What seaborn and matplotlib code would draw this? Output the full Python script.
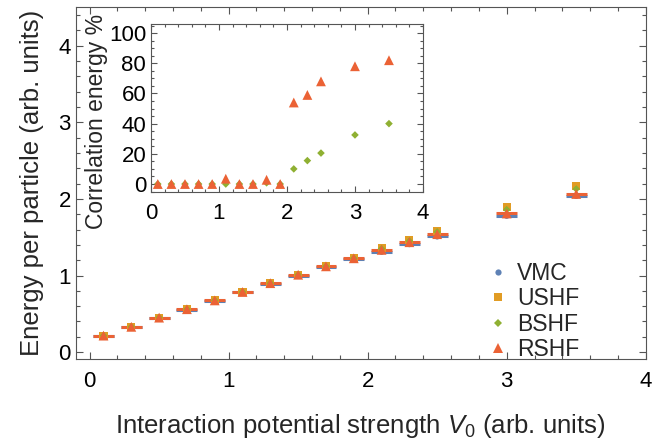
import numpy as np
import pandas as pd
import matplotlib
matplotlib.use("Agg")
import matplotlib.pyplot as plt
import seaborn as sns
from matplotlib.ticker import MultipleLocator

# interaction strengths
v0 = [0.1, 0.3, 0.5, 0.7, 0.9, 1.1, 1.3, 1.5, 1.7, 1.9, 2.1, 2.3, 2.5, 3.0, 3.5]

# energy per particle
vmc = [0.21, 0.325, 0.445, 0.555, 0.67, 0.78, 0.895, 1.0, 1.105, 1.21, 1.31, 1.41, 1.51, 1.78, 2.04]
ushf = [0.215, 0.33, 0.45, 0.56, 0.675, 0.785, 0.90, 1.01, 1.12, 1.23, 1.36, 1.46, 1.585, 1.89, 2.17]
bshf = [0.215, 0.33, 0.45, 0.56, 0.675, 0.785, 0.90, 1.01, 1.12, 1.225, 1.35, 1.45, 1.57, 1.86, 2.13]
rshf = [0.215, 0.33, 0.45, 0.56, 0.675, 0.785, 0.90, 1.01, 1.12, 1.225, 1.335, 1.435, 1.54, 1.81, 2.065]

# correlation energy percentages (inset)
bshf_pct = [0, 0, 0, 0, 0, 0, 0, 0, 0.8, 0, 10, 15.5, 20.5, 32.5, 40]
rshf_pct = [0, 0, 0, 0, 0, 3.5, 0, 0, 2.8, 0, 54, 59, 68, 78, 82]

series = ["VMC", "USHF", "BSHF", "RSHF"]
colors = {"VMC": "#5E81B5", "USHF": "#E19C24", "BSHF": "#8FB032", "RSHF": "#EB6235"}
markers = {"VMC": "o", "USHF": "s", "BSHF": "D", "RSHF": "^"}
sizes = {"VMC": 20, "USHF": 34, "BSHF": 15, "RSHF": 50}

df = pd.DataFrame({
    "V0": v0 * 4,
    "E": vmc + ushf + bshf + rshf,
    "series": [s for s in series for _ in v0],
})
df_in = pd.DataFrame({
    "V0": v0 * 2,
    "pct": bshf_pct + rshf_pct,
    "series": ["BSHF"] * len(v0) + ["RSHF"] * len(v0),
})

sns.set_style("ticks")
plt.rcParams["font.family"] = ["Liberation Sans", "DejaVu Sans"]
plt.rcParams["mathtext.fontset"] = "custom"
plt.rcParams["mathtext.it"] = "Liberation Sans:italic"
plt.rcParams["mathtext.rm"] = "Liberation Sans"
plt.rcParams["axes.edgecolor"] = "#555555"
plt.rcParams["xtick.color"] = "#555555"
plt.rcParams["ytick.color"] = "#555555"
plt.rcParams["xtick.labelcolor"] = "black"
plt.rcParams["ytick.labelcolor"] = "black"

fig = plt.figure(figsize=(6.64, 4.41), dpi=100)
ax = fig.add_axes([0.114, 0.186, 0.8585, 0.797])

# horizontal bars for VMC and RSHF
ax.errorbar(v0, vmc, xerr=0.075, fmt="none", ecolor=colors["VMC"], elinewidth=2.2, zorder=2)
ax.errorbar(v0, rshf, xerr=0.075, fmt="none", ecolor=colors["RSHF"], elinewidth=2.2, zorder=2)

sns.scatterplot(data=df, x="V0", y="E", hue="series", style="series", size="series",
                palette=colors, markers=markers, sizes=sizes, hue_order=series,
                style_order=series, size_order=series, linewidth=0, ax=ax, zorder=3)

ax.set_xlim(-0.1, 4.0)
ax.set_ylim(-0.09, 4.5)
ax.xaxis.set_major_locator(MultipleLocator(1))
ax.xaxis.set_minor_locator(MultipleLocator(0.2))
ax.yaxis.set_major_locator(MultipleLocator(1))
ax.yaxis.set_minor_locator(MultipleLocator(0.2))
ax.tick_params(which="both", direction="in", top=True, right=True, labelsize=16, width=0.8)
ax.tick_params(which="major", length=5)
ax.tick_params(which="minor", length=3)
ax.tick_params(axis="x", pad=9)
ax.set_xlabel("Interaction potential strength $V_0$ (arb. units)", fontsize=18.5, labelpad=14)
ax.set_ylabel("Energy per particle (arb. units)", fontsize=18.5, labelpad=10)

handles, labels = ax.get_legend_handles_labels()
ax.legend(handles, labels, loc="center left", bbox_to_anchor=(0.704, 0.135), frameon=False,
          fontsize=16.5, handlelength=1.0, handletextpad=0.35, labelspacing=0.1,
          markerscale=1.0, borderaxespad=0)

# inset
axi = fig.add_axes([0.2274, 0.5646, 0.4096, 0.381])
axi.set_facecolor("white")
sns.scatterplot(data=df_in, x="V0", y="pct", hue="series", style="series", size="series",
                palette=colors, markers=markers, sizes=sizes, linewidth=0, ax=axi,
                legend=False)
axi.set_xlim(0, 4.0)
axi.set_ylim(-5.3, 106)
axi.xaxis.set_major_locator(MultipleLocator(1))
axi.xaxis.set_minor_locator(MultipleLocator(0.2))
axi.yaxis.set_major_locator(MultipleLocator(20))
axi.yaxis.set_minor_locator(MultipleLocator(5))
axi.tick_params(which="both", direction="in", top=True, right=True, labelsize=16, width=0.8)
axi.tick_params(which="major", length=4)
axi.tick_params(which="minor", length=2.5)
axi.tick_params(axis="x", pad=8)
axi.set_xlabel("")
axi.set_ylabel("Correlation energy %", fontsize=16.5)
axi.yaxis.set_label_coords(-0.158, 0.42)

fig.savefig("out.png", dpi=100)
